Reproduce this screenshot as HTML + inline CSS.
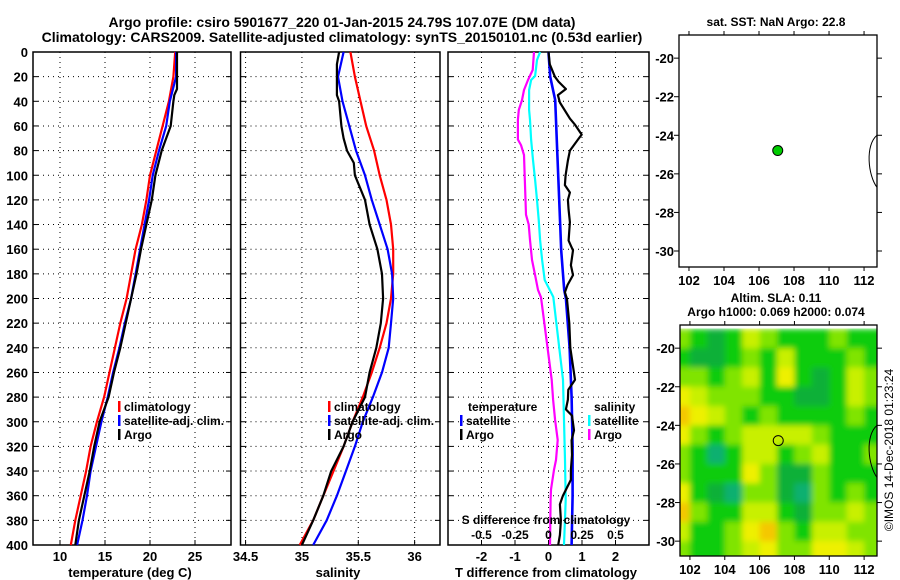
<!DOCTYPE html>
<html><head><meta charset="utf-8">
<style>
html,body{margin:0;padding:0;background:#fff;}
svg{display:block;font-family:"Liberation Sans",sans-serif;font-weight:bold;}
</style></head>
<body>
<svg id="chart" width="900" height="580" viewBox="0 0 900 580" xmlns="http://www.w3.org/2000/svg">
<defs>
<filter id="blur" x="0" y="0" width="1" height="1"><feGaussianBlur stdDeviation="3" edgeMode="duplicate"/></filter>
<clipPath id="clipMap2"><rect x="680" y="325" width="197" height="231"/></clipPath>
</defs>
<text x="342" y="27" font-size="14" text-anchor="middle">Argo profile: csiro 5901677_220 01-Jan-2015 24.79S 107.07E (DM data)</text>
<text x="342" y="42" font-size="14" text-anchor="middle">Climatology: CARS2009. Satellite-adjusted climatology: synTS_20150101.nc (0.53d earlier)</text>
<g id="g"></g>
</svg>
<script>
// ---------- data ----------
const depthTicks = [0,20,40,60,80,100,120,140,160,180,200,220,240,260,280,300,320,340,360,380,400];
const tempTicks = [10,15,20,25];
const salTicks = [34.5,35,35.5,36];
const tdiffTicks = [-2,-1,0,1,2];
const sdiffTickLabels = ["-0.5","-0.25","0","0.25","0.5"];
const sdiffTicks = [-0.5,-0.25,0,0.25,0.5];
const latTicks = [-20,-22,-24,-26,-28,-30];
const lonTicks = [102,104,106,108,110,112];

const profDepth = [0,20,40,60,80,100,120,140,160,180,200,220,240,260,280,300,320,340,360,380,400];
const tempClim = [22.8,22.6,22.1,21.4,20.7,20.0,19.6,19.1,18.4,17.9,17.4,16.7,16.1,15.5,14.9,14.1,13.4,12.9,12.3,11.7,11.2];
const tempSat  = [22.9,22.9,22.2,21.8,21.0,20.3,19.9,19.4,18.9,18.4,17.9,17.2,16.6,15.9,15.3,14.6,14.0,13.4,13.0,12.5,11.9];
const argoDepth = [0,30,35,40,60,70,80,100,120,140,160,180,200,220,240,260,280,300,320,340,360,380,400];
const tempArgo = [23.0,23.0,22.7,22.6,22.3,21.8,21.3,20.6,20.2,19.6,19.0,18.5,17.9,17.3,16.7,16.0,15.4,14.4,13.8,13.3,12.7,12.1,11.7];

const salClim = [35.43,35.47,35.52,35.57,35.64,35.69,35.75,35.79,35.81,35.81,35.79,35.75,35.69,35.62,35.54,35.45,35.37,35.28,35.19,35.10,34.98];
const salSat  = [35.37,35.32,35.36,35.42,35.48,35.56,35.62,35.69,35.76,35.80,35.81,35.79,35.77,35.71,35.63,35.54,35.47,35.39,35.31,35.22,35.10];
const salArgoDepth = [0,10,20,35,40,60,70,80,90,100,120,140,160,180,200,220,240,260,280,300,320,340,360,380,400];
const salArgo = [35.33,35.31,35.31,35.31,35.33,35.35,35.37,35.40,35.46,35.47,35.56,35.60,35.67,35.71,35.72,35.70,35.66,35.60,35.56,35.45,35.37,35.26,35.19,35.10,35.00];

const tdSatDepth = [0,4,20,39,80,120,161,193,200,240,280,320,360,400];
const tdSat = [0.0,0.01,0.05,0.2,0.26,0.32,0.38,0.47,0.52,0.63,0.69,0.72,0.72,0.69];
const tdArgoDepth = [0,10,20,24,30,35,41,54,59,67,71,80,88,100,108,114,120,128,138,153,161,173,181,189,195,200,220,240,266,274,282,290,295,307,315,327,339,347,360,367,380,392,400];
const tdArgo = [0,0.04,0.19,0.30,0.52,0.28,0.34,0.64,0.79,0.99,0.88,0.64,0.58,0.51,0.49,0.64,0.58,0.60,0.64,0.60,0.73,0.67,0.73,0.57,0.49,0.55,0.62,0.65,0.79,0.59,0.58,0.52,0.70,0.76,0.69,0.70,0.67,0.67,0.43,0.34,0.37,0.34,0.29];
const sdSatDepth = [0,6.5,19.5,22.7,30.8,38.9,47,55,71,87.6,103.8,120,136,152.5,168.7,185,198.8,266,298.6,331,363.5,400];
const sdSat = [-0.063,-0.086,-0.10,-0.13,-0.145,-0.145,-0.145,-0.138,-0.13,-0.116,-0.10,-0.086,-0.073,-0.063,-0.048,-0.028,0.036,0.108,0.116,0.123,0.128,0.116];
const sdArgoDepth = [0,14.6,22.7,30.8,39,47,55,71,75.5,83.6,108,132,140,152.5,168.7,181,193,199,266,282,298.6,314.8,331,339,355,363.5,400];
const sdArgo = [-0.108,-0.118,-0.153,-0.183,-0.198,-0.222,-0.228,-0.228,-0.205,-0.183,-0.175,-0.168,-0.148,-0.138,-0.123,-0.10,-0.078,-0.056,0.024,0.034,0.049,0.069,0.056,0.041,0.019,0.016,0.011];

const argoLon = 107.07, argoLat = -24.79;
const slaLons = [101.5,102.5,103.5,104.5,105.5,106.5,107.5,108.5,109.5,110.5,111.5,112.5];
const slaLats = [-19.5,-20.5,-21.5,-22.5,-23.5,-24.5,-25.5,-26.5,-27.5,-28.5,-29.5,-30.5];
const slaGrid = [
[3,2,1,2,4,3,2,2,2,3,2,2],
[2,1,1,2,3,2,4,2,2,2,3,2],
[3,3,2,3,4,2,5,2,1,2,4,3],
[5,4,3,3,3,2,2,1,1,2,4,3],
[6,5,4,3,2,3,2,2,2,2,3,2],
[5,3,2,3,4,4,4,4,3,2,2,2],
[3,2,0,2,4,4,2,3,4,2,2,3],
[3,2,2,2,5,3,1,1,3,2,2,2],
[5,2,1,0,3,3,1,0,3,2,3,2],
[6,3,2,2,4,4,2,1,3,3,4,3],
[4,2,2,3,5,6,3,2,4,4,3,3],
[3,2,2,3,4,5,3,3,5,5,4,3]];
const slaColors = ['#10b070','#08b038','#10cc10','#80e400','#c8f000','#eef000','#f4c800'];

// ---------- helpers ----------
const NS='http://www.w3.org/2000/svg';
const G=document.getElementById('g');
function el(tag,attrs,parent){const e=document.createElementNS(NS,tag);for(const k in attrs)e.setAttribute(k,attrs[k]);(parent||G).appendChild(e);return e;}
function txt(s,x,y,size,anchor,parent){const t=el('text',{x:x,y:y,'font-size':size,'text-anchor':anchor||'middle'},parent);t.textContent=s;return t;}
const yTop=52,yBot=545;
const yD=d=>yTop+(d/400)*(yBot-yTop);

function panel(name,x0,x1,xmin,xmax){
  const xs=v=>x0+(v-xmin)/(xmax-xmin)*(x1-x0);
  const g=el('g',{});
  
  
  return {g,xs,x0,x1};
}
function frame(p,xt,labels,ylabels){
  depthTicks.forEach(d=>{
    const y=yD(d);
    if(d>0&&d<400){const l=el('line',{x1:p.x0,x2:p.x1,y1:y,y2:y,stroke:'#000','stroke-width':1,'stroke-dasharray':'1,4'},p.g);
      }
    el('line',{x1:p.x0,x2:p.x0+5,y1:y,y2:y,stroke:'#000'},p.g);
    el('line',{x1:p.x1-5,x2:p.x1,y1:y,y2:y,stroke:'#000'},p.g);
    if(ylabels){const t=txt(String(d),28,y+5,13,'end',p.g);}
  });
  xt.forEach((v,i)=>{
    const x=p.xs(v);
    const l=el('line',{x1:x,x2:x,y1:yTop,y2:yBot,stroke:'#000','stroke-width':1,'stroke-dasharray':'1,4'},p.g);
    
    el('line',{x1:x,x2:x,y1:yBot-5,y2:yBot,stroke:'#000'},p.g);
    const t=txt(labels[i],x,561,13,'middle',p.g);
    
  });
  const r=el('rect',{x:p.x0,y:yTop,width:p.x1-p.x0,height:yBot-yTop,fill:'none',stroke:'#000','stroke-width':1.5},p.g);
  
}
function line(p,depths,vals,color,name,w,xsf){
  const f=xsf||p.xs;
  const pts=depths.map((d,i)=>f(vals[i]).toFixed(1)+','+yD(d).toFixed(1)).join(' ');
  const l=el('polyline',{points:pts,fill:'none',stroke:color,'stroke-width':w||2.2,'stroke-linejoin':'round'},p.g);
  
}
function legend(p,x,y,items){
  items.forEach((it,i)=>{
    const yy=y+i*14;
    el('rect',{x:x,y:yy-10,width:2.5,height:11,fill:it[1]},p.g);
    const t=txt(it[0],x+6,yy,12,'start',p.g);
    
  });
}

// Panel 1: temperature
const p1=panel('temperature-panel',33,231,7,29);
frame(p1,tempTicks,tempTicks.map(String),true);
line(p1,profDepth,tempClim,'#ff0000','temp-climatology-line');
line(p1,profDepth,tempSat,'#0000ff','temp-satellite-line');
line(p1,argoDepth,tempArgo,'#000000','temp-argo-line');
legend(p1,118,411,[['climatology','#f00'],['satellite-adj. clim.','#00f'],['Argo','#000']]);
{const t=txt('temperature (deg C)',130,577,13,'middle',p1.g);}

// Panel 2: salinity
const p2=panel('salinity-panel',240.5,440,34.455,36.225);
frame(p2,salTicks,salTicks.map(String),false);
line(p2,profDepth,salClim,'#ff0000','sal-climatology-line');
line(p2,profDepth,salSat,'#0000ff','sal-satellite-line');
line(p2,salArgoDepth,salArgo,'#000000','sal-argo-line');
legend(p2,328,411,[['climatology','#f00'],['satellite-adj. clim.','#00f'],['Argo','#000']]);
{const t=txt('salinity',338,577,13,'middle',p2.g);}

// Panel 3: differences
const p3=panel('difference-panel',448,649,-3,3);
frame(p3,tdiffTicks,tdiffTicks.map(String),false);
const xsS=v=>p3.xs(v*4);
line(p3,sdArgoDepth,sdArgo,'#ff00ff','sdiff-argo-line',2.2,xsS);
line(p3,sdSatDepth,sdSat,'#00ffff','sdiff-satellite-line',2.2,xsS);
line(p3,tdSatDepth,tdSat,'#0000ff','tdiff-satellite-line',2.6);
line(p3,tdArgoDepth,tdArgo,'#000000','tdiff-argo-line');
{let t=txt('temperature',468,411,12,'start',p3.g);}
legend(p3,460,425,[['satellite','#00f'],['Argo','#000']]);
{let t=txt('salinity',594,411,12,'start',p3.g);}
legend(p3,588,425,[['satellite','#0ff'],['Argo','#f0f']]);
{let t=txt('S difference from climatology',546,524,12,'middle',p3.g);}
sdiffTicks.forEach((v,i)=>{const t=txt(sdiffTickLabels[i],xsS(v),539,12,'middle',p3.g);});
{const t=txt('T difference from climatology',546,577,13,'middle',p3.g);}

// Maps
function map(name,x0,y0,w,h,latTop,latBot,lonL,lonR){
  const g=el('g',{});
  
  const xs=v=>x0+(v-lonL)/(lonR-lonL)*w, ys=v=>y0+(latTop-v)/(latTop-latBot)*h;
  return {g,xs,ys,x0,y0,w,h};
}
function mapFrame(m){
  latTicks.forEach(v=>{const y=m.ys(v);
    el('line',{x1:m.x0+m.w,x2:m.x0+m.w+5,y1:y,y2:y,stroke:'#000'},m.g);
    el('line',{x1:m.x0-5,x2:m.x0,y1:y,y2:y,stroke:'#000'},m.g);
    const t=txt(String(v),m.x0-5,y+5,13,'end',m.g);});
  lonTicks.forEach(v=>{const x=m.xs(v);
    el('line',{x1:x,x2:x,y1:m.y0-4,y2:m.y0,stroke:'#000'},m.g);
    el('line',{x1:x,x2:x,y1:m.y0+m.h,y2:m.y0+m.h+4,stroke:'#000'},m.g);
    const t=txt(String(v),x,m.y0+m.h+18,13,'middle',m.g);});
  el('rect',{x:m.x0,y:m.y0,width:m.w,height:m.h,fill:'none',stroke:'#000','stroke-width':1.3},m.g);
  const cx=m.x0+m.w, cy1=m.ys(-24.0), cy2=m.ys(-26.7);
  const c=el('path',{d:`M${cx},${cy1} C${cx-12},${cy1+10} ${cx-9},${cy2-12} ${cx},${cy2}`,fill:'none',stroke:'#000','stroke-width':1},m.g);
  
}
const m1=map('sst-map',679,35,198,232,-18.8,-30.83,101.43,112.74);
{const t=txt('sat. SST: NaN Argo: 22.8',776,26,12,'middle',m1.g);}
mapFrame(m1);
{const c=el('circle',{cx:m1.xs(argoLon),cy:m1.ys(argoLat),r:5,fill:'#00cc00',stroke:'#000','stroke-width':1},m1.g);}

const m2=map('sla-map',680,325,197,231,-18.8,-30.77,101.43,112.74);
{let t=txt('Altim. SLA: 0.11',776,302,12,'middle',m2.g);
 t=txt('Argo h1000: 0.069 h2000: 0.074',776,316,12,'middle',m2.g);}
const hg=el('g',{'clip-path':'url(#clipMap2)'},m2.g);
const hb=el('g',{filter:'url(#blur)'},hg);
slaLats.forEach((la,i)=>slaLons.forEach((lo,j)=>{
  const x=m2.xs(lo-0.5), y=m2.ys(la+0.5);
  const r=el('rect',{x:x.toFixed(1),y:y.toFixed(1),width:(m2.xs(lo+0.5)-x+0.6).toFixed(1),height:(m2.ys(la-0.5)-y+0.6).toFixed(1),fill:slaColors[slaGrid[i][j]]},hb);
  
  
}));
mapFrame(m2);
{const c=el('circle',{cx:m2.xs(argoLon),cy:m2.ys(argoLat),r:5,fill:'none',stroke:'#000','stroke-width':1},m2.g);}
{const t=txt('©IMOS 14-Dec-2018 01:23:24',0,0,12,'middle',G);t.setAttribute('transform','translate(893,450) rotate(-90)');t.setAttribute('font-weight','normal');}
</script>
</body></html>
